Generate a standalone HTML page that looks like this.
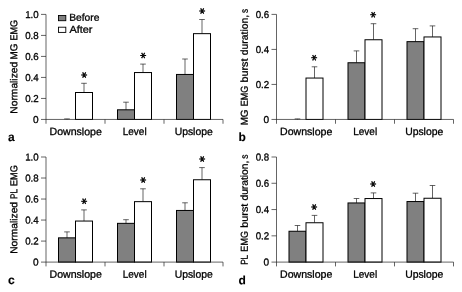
<!DOCTYPE html>
<html><head><meta charset="utf-8"><title>Figure</title>
<style>
html,body{margin:0;padding:0;background:#fff;}
text{text-rendering:geometricPrecision;stroke:#000;stroke-width:0.3px;}
text.as{font-family:"DejaVu Sans",sans-serif;font-size:12px;stroke-width:0.45px;}
svg{display:block;will-change:transform;filter:grayscale(1);font-family:"Liberation Sans",sans-serif;fill:#000;}
</style></head><body>
<svg width="462" height="292" viewBox="0 0 462 292">
<rect width="462" height="292" fill="#fff"/>
<path d="M67 119.45V118.9M64.2 118.9H69.8" stroke="#222" stroke-width="0.7" fill="none"/>
<path d="M84 92.5V83.3M81.2 83.3H86.8" stroke="#222" stroke-width="0.7" fill="none"/>
<rect x="75.5" y="92.5" width="17" height="26.95" fill="#fff" stroke="#000" stroke-width="1"/>
<text transform="translate(84 75) rotate(90)" x="-3.0" y="6.3" class="as">*</text>
<path d="M126 109.8V102.2M123.2 102.2H128.8" stroke="#222" stroke-width="0.7" fill="none"/>
<path d="M143 72.55V64.1M140.2 64.1H145.8" stroke="#222" stroke-width="0.7" fill="none"/>
<rect x="117.5" y="109.8" width="17" height="9.65" fill="#808080" stroke="#000" stroke-width="1"/>
<rect x="134.5" y="72.55" width="17" height="46.9" fill="#fff" stroke="#000" stroke-width="1"/>
<text transform="translate(143 55.5) rotate(90)" x="-3.0" y="6.3" class="as">*</text>
<path d="M185 74.45V59M182.2 59H187.8" stroke="#222" stroke-width="0.7" fill="none"/>
<path d="M202 33.65V19.5M199.2 19.5H204.8" stroke="#222" stroke-width="0.7" fill="none"/>
<rect x="176.5" y="74.45" width="17" height="45" fill="#808080" stroke="#000" stroke-width="1"/>
<rect x="193.5" y="33.65" width="17" height="85.8" fill="#fff" stroke="#000" stroke-width="1"/>
<text transform="translate(202 10.95) rotate(90)" x="-3.0" y="6.3" class="as">*</text>
<path d="M46 14.4V123.75M41 119.45H223M105 119.45v4.3M164 119.45v4.3M223 119.45v4.3M41 98.44h5M41 77.43h5M41 56.42h5M41 35.41h5M41 14.4h5" stroke="#222" stroke-width="0.7" fill="none"/>
<text transform="translate(33.1 122.95) rotate(0.05)" font-size="10" textLength="5.6" lengthAdjust="spacingAndGlyphs">0</text>
<text transform="translate(25.2 101.94) rotate(0.05)" font-size="10" textLength="13.5" lengthAdjust="spacingAndGlyphs">0.2</text>
<text transform="translate(25.2 80.93) rotate(0.05)" font-size="10" textLength="13.5" lengthAdjust="spacingAndGlyphs">0.4</text>
<text transform="translate(25.2 59.92) rotate(0.05)" font-size="10" textLength="13.5" lengthAdjust="spacingAndGlyphs">0.6</text>
<text transform="translate(25.2 38.91) rotate(0.05)" font-size="10" textLength="13.5" lengthAdjust="spacingAndGlyphs">0.8</text>
<text transform="translate(25.2 17.9) rotate(0.05)" font-size="10" textLength="13.5" lengthAdjust="spacingAndGlyphs">1.0</text>
<text transform="translate(49.5 135.1) rotate(0.05)" font-size="10.5" textLength="52.4" lengthAdjust="spacingAndGlyphs">Downslope</text>
<text transform="translate(122.75 135.1) rotate(0.05)" font-size="10.5" textLength="23.9" lengthAdjust="spacingAndGlyphs">Level</text>
<text transform="translate(174.65 135.1) rotate(0.05)" font-size="10.5" textLength="38.1" lengthAdjust="spacingAndGlyphs">Upslope</text>
<text transform="translate(17.3 113.65) rotate(-90.05)" font-size="10" textLength="51.8" lengthAdjust="spacingAndGlyphs">Normalized</text>
<text transform="translate(17.3 59.45) rotate(-90.05)" font-size="10" textLength="15.9" lengthAdjust="spacingAndGlyphs">MG</text>
<text transform="translate(17.3 40.55) rotate(-90.05)" font-size="10" textLength="20.7" lengthAdjust="spacingAndGlyphs">EMG</text>
<text transform="translate(7.9 140.9) rotate(0.05)" font-size="12" font-weight="bold" style="stroke-width:0.1px">a</text>
<path d="M297.5 119.45V118.9M294.7 118.9H300.3" stroke="#222" stroke-width="0.7" fill="none"/>
<path d="M314.5 78.05V66.8M311.7 66.8H317.3" stroke="#222" stroke-width="0.7" fill="none"/>
<rect x="306" y="78.05" width="17" height="41.4" fill="#fff" stroke="#000" stroke-width="1"/>
<text transform="translate(314.5 57.85) rotate(90)" x="-3.0" y="6.3" class="as">*</text>
<path d="M356.5 62.75V50.9M353.7 50.9H359.3" stroke="#222" stroke-width="0.7" fill="none"/>
<path d="M373.5 39.75V23.7M370.7 23.7H376.3" stroke="#222" stroke-width="0.7" fill="none"/>
<rect x="348" y="62.75" width="17" height="56.7" fill="#808080" stroke="#000" stroke-width="1"/>
<rect x="365" y="39.75" width="17" height="79.7" fill="#fff" stroke="#000" stroke-width="1"/>
<text transform="translate(373.5 14.8) rotate(90)" x="-3.0" y="6.3" class="as">*</text>
<path d="M415.5 41.65V28.7M412.7 28.7H418.3" stroke="#222" stroke-width="0.7" fill="none"/>
<path d="M432.5 36.95V25.9M429.7 25.9H435.3" stroke="#222" stroke-width="0.7" fill="none"/>
<rect x="407" y="41.65" width="17" height="77.8" fill="#808080" stroke="#000" stroke-width="1"/>
<rect x="424" y="36.95" width="17" height="82.5" fill="#fff" stroke="#000" stroke-width="1"/>
<path d="M276.5 14.4V123.75M271.5 119.45H453.5M335.5 119.45v4.3M394.5 119.45v4.3M453.5 119.45v4.3M271.5 84.43h5M271.5 49.42h5M271.5 14.4h5" stroke="#222" stroke-width="0.7" fill="none"/>
<text transform="translate(263.6 122.95) rotate(0.05)" font-size="10" textLength="5.6" lengthAdjust="spacingAndGlyphs">0</text>
<text transform="translate(255.7 87.93) rotate(0.05)" font-size="10" textLength="13.5" lengthAdjust="spacingAndGlyphs">0.2</text>
<text transform="translate(255.7 52.92) rotate(0.05)" font-size="10" textLength="13.5" lengthAdjust="spacingAndGlyphs">0.4</text>
<text transform="translate(255.7 17.9) rotate(0.05)" font-size="10" textLength="13.5" lengthAdjust="spacingAndGlyphs">0.6</text>
<text transform="translate(280 135.1) rotate(0.05)" font-size="10.5" textLength="52.4" lengthAdjust="spacingAndGlyphs">Downslope</text>
<text transform="translate(353.25 135.1) rotate(0.05)" font-size="10.5" textLength="23.9" lengthAdjust="spacingAndGlyphs">Level</text>
<text transform="translate(405.15 135.1) rotate(0.05)" font-size="10.5" textLength="38.1" lengthAdjust="spacingAndGlyphs">Upslope</text>
<text transform="translate(247.8 125.35) rotate(-90.05)" font-size="10" textLength="15.9" lengthAdjust="spacingAndGlyphs">MG</text>
<text transform="translate(247.8 106.25) rotate(-90.05)" font-size="10" textLength="20.6" lengthAdjust="spacingAndGlyphs">EMG</text>
<text transform="translate(247.8 82.55) rotate(-90.05)" font-size="10" textLength="24.1" lengthAdjust="spacingAndGlyphs">burst</text>
<text transform="translate(247.8 55.15) rotate(-90.05)" font-size="10" textLength="40.2" lengthAdjust="spacingAndGlyphs">duration,</text>
<text transform="translate(247.8 13.05) rotate(-90.05)" font-size="10" textLength="4.1" lengthAdjust="spacingAndGlyphs">s</text>
<text transform="translate(238.4 140.9) rotate(0.05)" font-size="12" font-weight="bold" style="stroke-width:0.1px">b</text>
<path d="M67 237.85V231.9M64.2 231.9H69.8" stroke="#222" stroke-width="0.7" fill="none"/>
<path d="M84 221.05V209.9M81.2 209.9H86.8" stroke="#222" stroke-width="0.7" fill="none"/>
<rect x="58.5" y="237.85" width="17" height="24.25" fill="#808080" stroke="#000" stroke-width="1"/>
<rect x="75.5" y="221.05" width="17" height="41.05" fill="#fff" stroke="#000" stroke-width="1"/>
<text transform="translate(84 201.3) rotate(90)" x="-3.0" y="6.3" class="as">*</text>
<path d="M126 223.35V219.7M123.2 219.7H128.8" stroke="#222" stroke-width="0.7" fill="none"/>
<path d="M143 201.65V188.8M140.2 188.8H145.8" stroke="#222" stroke-width="0.7" fill="none"/>
<rect x="117.5" y="223.35" width="17" height="38.75" fill="#808080" stroke="#000" stroke-width="1"/>
<rect x="134.5" y="201.65" width="17" height="60.45" fill="#fff" stroke="#000" stroke-width="1"/>
<text transform="translate(143 180.05) rotate(90)" x="-3.0" y="6.3" class="as">*</text>
<path d="M185 210.45V202.8M182.2 202.8H187.8" stroke="#222" stroke-width="0.7" fill="none"/>
<path d="M202 179.75V167.6M199.2 167.6H204.8" stroke="#222" stroke-width="0.7" fill="none"/>
<rect x="176.5" y="210.45" width="17" height="51.65" fill="#808080" stroke="#000" stroke-width="1"/>
<rect x="193.5" y="179.75" width="17" height="82.35" fill="#fff" stroke="#000" stroke-width="1"/>
<text transform="translate(202 159.05) rotate(90)" x="-3.0" y="6.3" class="as">*</text>
<path d="M46 157V266.4M41 262.1H223M105 262.1v4.3M164 262.1v4.3M223 262.1v4.3M41 241.08h5M41 220.06h5M41 199.04h5M41 178.02h5M41 157h5" stroke="#222" stroke-width="0.7" fill="none"/>
<text transform="translate(33.1 265.6) rotate(0.05)" font-size="10" textLength="5.6" lengthAdjust="spacingAndGlyphs">0</text>
<text transform="translate(25.2 244.58) rotate(0.05)" font-size="10" textLength="13.5" lengthAdjust="spacingAndGlyphs">0.2</text>
<text transform="translate(25.2 223.56) rotate(0.05)" font-size="10" textLength="13.5" lengthAdjust="spacingAndGlyphs">0.4</text>
<text transform="translate(25.2 202.54) rotate(0.05)" font-size="10" textLength="13.5" lengthAdjust="spacingAndGlyphs">0.6</text>
<text transform="translate(25.2 181.52) rotate(0.05)" font-size="10" textLength="13.5" lengthAdjust="spacingAndGlyphs">0.8</text>
<text transform="translate(25.2 160.5) rotate(0.05)" font-size="10" textLength="13.5" lengthAdjust="spacingAndGlyphs">1.0</text>
<text transform="translate(49.5 277.75) rotate(0.05)" font-size="10.5" textLength="52.4" lengthAdjust="spacingAndGlyphs">Downslope</text>
<text transform="translate(122.75 277.75) rotate(0.05)" font-size="10.5" textLength="23.9" lengthAdjust="spacingAndGlyphs">Level</text>
<text transform="translate(174.65 277.75) rotate(0.05)" font-size="10.5" textLength="38.1" lengthAdjust="spacingAndGlyphs">Upslope</text>
<text transform="translate(17.3 253.85) rotate(-90.05)" font-size="10" textLength="51.9" lengthAdjust="spacingAndGlyphs">Normalized</text>
<text transform="translate(17.3 198.95) rotate(-90.05)" font-size="10" textLength="10" lengthAdjust="spacingAndGlyphs">PL</text>
<text transform="translate(17.3 185.95) rotate(-90.05)" font-size="10" textLength="20.7" lengthAdjust="spacingAndGlyphs">EMG</text>
<text transform="translate(7.9 284.1) rotate(0.05)" font-size="12" font-weight="bold" style="stroke-width:0.1px">c</text>
<path d="M297.5 231.25V225.5M294.7 225.5H300.3" stroke="#222" stroke-width="0.7" fill="none"/>
<path d="M314.5 222.75V215.4M311.7 215.4H317.3" stroke="#222" stroke-width="0.7" fill="none"/>
<rect x="289" y="231.25" width="17" height="30.85" fill="#808080" stroke="#000" stroke-width="1"/>
<rect x="306" y="222.75" width="17" height="39.35" fill="#fff" stroke="#000" stroke-width="1"/>
<text transform="translate(314.5 207) rotate(90)" x="-3.0" y="6.3" class="as">*</text>
<path d="M356.5 202.95V198.5M353.7 198.5H359.3" stroke="#222" stroke-width="0.7" fill="none"/>
<path d="M373.5 198.55V192.9M370.7 192.9H376.3" stroke="#222" stroke-width="0.7" fill="none"/>
<rect x="348" y="202.95" width="17" height="59.15" fill="#808080" stroke="#000" stroke-width="1"/>
<rect x="365" y="198.55" width="17" height="63.55" fill="#fff" stroke="#000" stroke-width="1"/>
<text transform="translate(373.5 184) rotate(90)" x="-3.0" y="6.3" class="as">*</text>
<path d="M415.5 201.55V193.2M412.7 193.2H418.3" stroke="#222" stroke-width="0.7" fill="none"/>
<path d="M432.5 198.25V185.5M429.7 185.5H435.3" stroke="#222" stroke-width="0.7" fill="none"/>
<rect x="407" y="201.55" width="17" height="60.55" fill="#808080" stroke="#000" stroke-width="1"/>
<rect x="424" y="198.25" width="17" height="63.85" fill="#fff" stroke="#000" stroke-width="1"/>
<path d="M276.5 157V266.4M271.5 262.1H453.5M335.5 262.1v4.3M394.5 262.1v4.3M453.5 262.1v4.3M271.5 235.83h5M271.5 209.55h5M271.5 183.28h5M271.5 157h5" stroke="#222" stroke-width="0.7" fill="none"/>
<text transform="translate(263.6 265.6) rotate(0.05)" font-size="10" textLength="5.6" lengthAdjust="spacingAndGlyphs">0</text>
<text transform="translate(255.7 239.33) rotate(0.05)" font-size="10" textLength="13.5" lengthAdjust="spacingAndGlyphs">0.2</text>
<text transform="translate(255.7 213.05) rotate(0.05)" font-size="10" textLength="13.5" lengthAdjust="spacingAndGlyphs">0.4</text>
<text transform="translate(255.7 186.78) rotate(0.05)" font-size="10" textLength="13.5" lengthAdjust="spacingAndGlyphs">0.6</text>
<text transform="translate(255.7 160.5) rotate(0.05)" font-size="10" textLength="13.5" lengthAdjust="spacingAndGlyphs">0.8</text>
<text transform="translate(280 277.75) rotate(0.05)" font-size="10.5" textLength="52.4" lengthAdjust="spacingAndGlyphs">Downslope</text>
<text transform="translate(353.25 277.75) rotate(0.05)" font-size="10.5" textLength="23.9" lengthAdjust="spacingAndGlyphs">Level</text>
<text transform="translate(405.15 277.75) rotate(0.05)" font-size="10.5" textLength="38.1" lengthAdjust="spacingAndGlyphs">Upslope</text>
<text transform="translate(247.8 264.85) rotate(-90.05)" font-size="10" textLength="10" lengthAdjust="spacingAndGlyphs">PL</text>
<text transform="translate(247.8 251.65) rotate(-90.05)" font-size="10" textLength="20.6" lengthAdjust="spacingAndGlyphs">EMG</text>
<text transform="translate(247.8 227.85) rotate(-90.05)" font-size="10" textLength="24.2" lengthAdjust="spacingAndGlyphs">burst</text>
<text transform="translate(247.8 200.55) rotate(-90.05)" font-size="10" textLength="39.9" lengthAdjust="spacingAndGlyphs">duration,</text>
<text transform="translate(247.8 158.65) rotate(-90.05)" font-size="10" textLength="4.25" lengthAdjust="spacingAndGlyphs">s</text>
<text transform="translate(238.4 284.2) rotate(0.05)" font-size="12" font-weight="bold" style="stroke-width:0.1px">d</text>
<rect x="58.5" y="15.5" width="7.3" height="5.2" fill="#808080" stroke="#000" stroke-width="0.9"/>
<rect x="58.5" y="27.2" width="7.3" height="5.2" fill="#fff" stroke="#000" stroke-width="0.9"/>
<text transform="translate(69.2 20.8) rotate(0.05)" font-size="10" textLength="30.2" lengthAdjust="spacingAndGlyphs">Before</text>
<text transform="translate(69.4 32.7) rotate(0.05)" font-size="10" textLength="23" lengthAdjust="spacingAndGlyphs">After</text>
</svg>
</body></html>
